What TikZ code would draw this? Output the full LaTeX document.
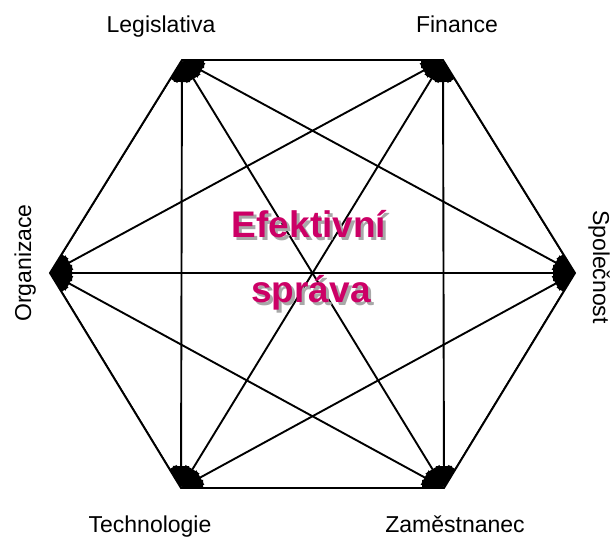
\documentclass[tikz,border=0pt]{standalone}
\usepackage{fontspec}
\setmainfont{Liberation Sans}
\usepackage{tikz}
\usetikzlibrary{arrows.meta}
\definecolor{ink}{HTML}{000000}
\definecolor{berry}{HTML}{CC0066}
\definecolor{shade}{HTML}{A8A8A8}
\tikzset{hexedge/.style={draw=ink,line width=1.9pt,line join=miter},linkarrow/.style={draw=ink,line width=1.9pt,{Triangle[length=22pt,width=16pt]}-{Triangle[length=22pt,width=16pt]}},cornerlabel/.style={font=\fontsize{23}{26}\selectfont,inner sep=0pt,anchor=base},titletext/.style={font=\fontsize{37}{42}\selectfont\bfseries,text=berry,inner sep=0pt,anchor=base},titleshadow/.style={font=\fontsize{37}{42}\selectfont\bfseries,text=shade,inner sep=0pt,anchor=base}}

\begin{document}
\begin{tikzpicture}[x=1pt,y=-1pt]
\useasboundingbox (0,0) rectangle (614,539);
\coordinate (leg) at (182,60);
\coordinate (fin) at (443,60);
\coordinate (spo) at (575,273);
\coordinate (zam) at (444,488);
\coordinate (tec) at (181,488);
\coordinate (org) at (50,273);
% odkazy mezi vrcholy, hroty orezane sestiuhelnikem
\begin{scope}
\clip (leg)--(fin)--(spo)--(zam)--(tec)--(org)--cycle;
\foreach \a/\b in {leg/fin,leg/spo,leg/zam,leg/tec,leg/org,fin/spo,fin/zam,fin/tec,fin/org,spo/zam,spo/tec,spo/org,zam/tec,zam/org,tec/org}
  \draw[linkarrow] (\a)--(\b);
\end{scope}
\draw[hexedge] (leg)--(fin)--(spo)--(zam)--(tec)--(org)--cycle;
\node[titleshadow] (efs) at (312,240) {Efektivní};
\node[titletext] (ef) at (309,237) {Efektivní};
\node[titleshadow] (sps) at (314,305) {správa};
\node[titletext] (sp) at (311,302) {správa};
\node[cornerlabel] (legl) at (161,32) {Legislativa};
\node[cornerlabel] (finl) at (457,32) {Finance};
\node[cornerlabel,rotate=90] (orgl) at (31,263) {Organizace};
\node[cornerlabel,rotate=-90] (spol) at (593,267) {Společnost};
\node[cornerlabel] (tecl) at (150,532) {Technologie};
\node[cornerlabel] (zaml) at (455,532) {Zaměstnanec};
\end{tikzpicture}
\end{document}
